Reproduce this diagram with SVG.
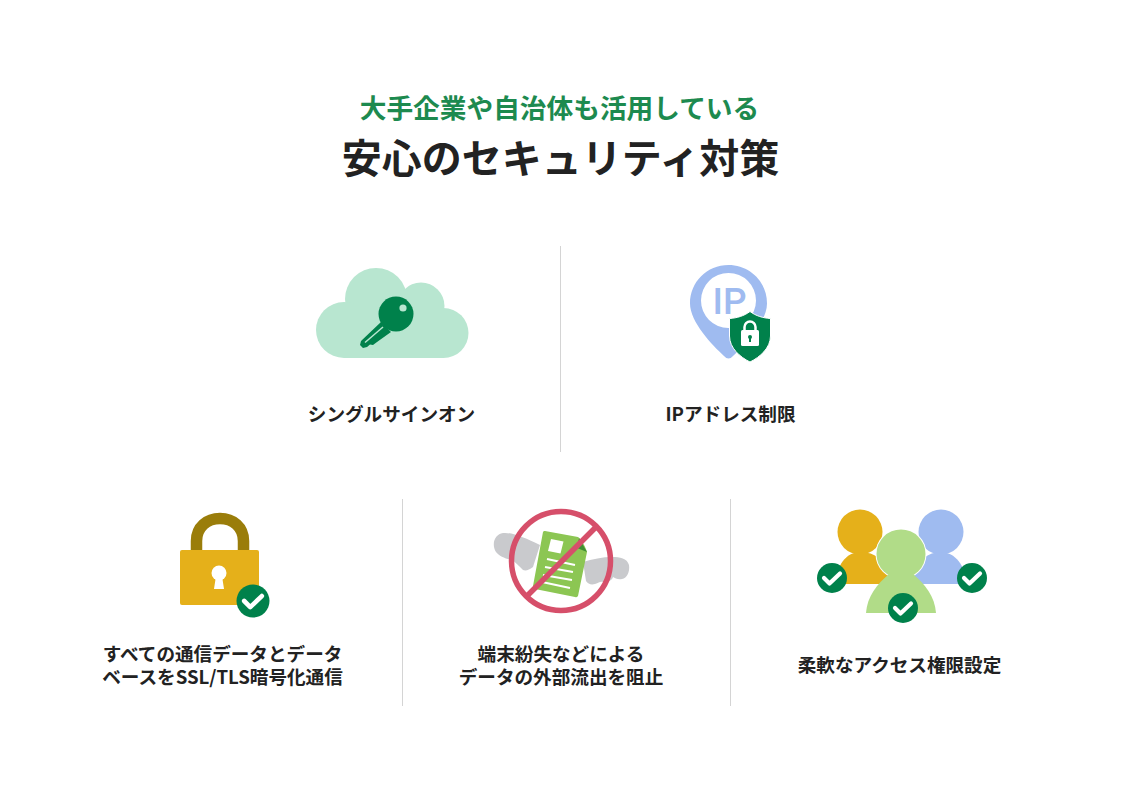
<svg xmlns="http://www.w3.org/2000/svg" xmlns:xlink="http://www.w3.org/1999/xlink" width="1121" height="793" viewBox="0 0 1121 793">
<style>
text{font-family:"Noto Sans CJK JP","Noto Sans",sans-serif;font-weight:700;text-anchor:middle}
.lab{font-size:18.6px;fill:#222}
.div{stroke:#d4d4d4;stroke-width:1}
</style>
<defs>
<g id="check"><circle r="15" fill="#00814b"/><path d="M-8,0L-2.500,5.500L8,-4.500" fill="none" stroke="#fff" stroke-width="4.200" stroke-linecap="round" stroke-linejoin="round"/></g>
</defs>
<rect width="1121" height="793" fill="#fff"/>
<g id="title">
<text x="559.500" y="118" font-size="26.700" fill="#1d8a4f">大手企業や自治体も活用している</text>
<text x="560.500" y="173" font-size="40" fill="#222">安心のセキュリティ対策</text>
</g>
<g id="dividers">
<line class="div" x1="560.500" y1="246" x2="560.500" y2="452"/>
<line class="div" x1="402.500" y1="499" x2="402.500" y2="706"/>
<line class="div" x1="730.500" y1="499" x2="730.500" y2="706"/>
</g>
<g id="sso">
<g fill="#b8e6d0">
<circle cx="376" cy="299" r="31"/>
<circle cx="421" cy="306" r="23.500"/>
<circle cx="344" cy="330" r="28"/>
<circle cx="443.500" cy="333" r="25"/>
<rect x="344" y="305" width="100" height="53"/>
</g>
<circle cx="396" cy="314" r="17.500" fill="#00814b"/>
<path fill="#00814b" d="M381,322L391,332L377,342L373,345L370,344.500L367,347L363,348L360,345L361,341Z"/>
<path d="M365,342.500L383,327" stroke="#b8e6d0" stroke-width="1.500" fill="none"/>
<circle cx="403" cy="308" r="3.600" fill="#b8e6d0"/>
<text class="lab" x="391.500" y="420.500">シングルサインオン</text>
</g>
<g id="ip">
<path fill="#9fbbf0" d="M690,303.500C690,282 707,265 728.500,265C750,265 767,282 767,303.500C767,322 745,345 733,356Q728.500,361 724,356C712,345 690,322 690,303.500Z"/>
<circle cx="728.500" cy="300.500" r="27.500" fill="#fff"/>
<text x="729.500" y="314" font-size="37" fill="#9fbbf0" style="font-weight:500;font-family:Roboto,sans-serif">IP</text>
<path fill="#00814b" stroke="#fff" stroke-width="1" d="M750,311.500C756,316 763,318 770.500,318.500V336C770.500,348 760,357 750,362C740,357 729.500,348 729.500,336V318.500C737,318 744,316 750,311.500Z"/>
<rect x="741" y="330" width="18" height="16" rx="1.500" fill="#fff"/>
<path d="M744.500,331V327a5.500,5.500 0 0 1 11,0V331" fill="none" stroke="#fff" stroke-width="2.500"/>
<circle cx="750" cy="337" r="2" fill="#00814b"/><rect x="749" y="337" width="2" height="5" fill="#00814b"/>
<text class="lab" x="730.500" y="420.500">IPアドレス制限</text>
</g>
<g id="ssl">
<path d="M196.500,552V541C196.500,527 207,518.500 220,518.500C233,518.500 243.500,527 243.500,541V552" fill="none" stroke="#9a7d0a" stroke-width="11.500"/>
<rect x="180" y="550" width="79" height="55" rx="2" fill="#e5b01a"/>
<circle cx="219" cy="573" r="7.500" fill="#fff"/>
<path d="M216,576L214,589H224L222,576Z" fill="#fff"/>
<use xlink:href="#check" href="#check" transform="translate(253,601) scale(1.100)"/>
<text class="lab" y="661"><tspan x="222.500">すべての通信データとデータ</tspan><tspan x="222.500" dy="23">ベースをSSL/TLS暗号化通信</tspan></text>
</g>
<g id="leak">
<path fill="#c9cacd" d="M503,533C512,532 525,538 540,545L533,567C529,570 526,571 523,570C519,566 515,562 512,560C506,559 499,556 496,552C491,544 495,534 503,533Z"/>
<path fill="#c9cacd" d="M583,562C592,559 603,557 612,557C620,557 627,558 629,565C630,572 627,578 622,579C618,580 615,578 613,577C612,581 606,583 603,582C600,581 599,583 595,584C591,585 588,584 586,581Z"/>
<path fill="#8cc653" d="M545,531L578,537C582,540 586,548 587,552L578,596C577,597 577,597.500 575,597L535,589C533,588 533,587 533,586L543,532C543.500,531 544,531 545,531Z"/>
<path fill="#3f8f35" d="M579,538L587,552L577,548Z"/>
<path fill="#fff" d="M551,539L563.500,541.500L560.500,553.500L548,551Z"/>
<path d="M547,559L575,565M545,567L573,572M543,575L572,580M542,582L570,588" stroke="#fff" stroke-width="2.200" fill="none"/>
<circle cx="561" cy="561" r="49.500" fill="none" stroke="#d64f6a" stroke-width="5.500"/>
<line x1="527.500" y1="595.500" x2="597" y2="526" stroke="#d64f6a" stroke-width="5.500"/>
<text class="lab" y="661"><tspan x="561">端末紛失などによる</tspan><tspan x="561" dy="23">データの外部流出を阻止</tspan></text>
</g>
<g id="access">
<circle cx="860" cy="532" r="22.500" fill="#e5b01a"/>
<path fill="#e5b01a" d="M836,584C836,566 846,552 860,552C876,552 884,560 890,576L885,584Z"/>
<circle cx="941" cy="532" r="22.500" fill="#9fbbf0"/>
<path fill="#9fbbf0" d="M915,584L910,576C918,560 928,552 941,552C955,552 966,566 966,584Z"/>
<circle cx="901" cy="554" r="25.500" fill="#fff"/>
<circle cx="901" cy="554" r="24.500" fill="#b1dc88"/>
<path fill="#b1dc88" d="M866,613C867,597 877,584 889,574L913,574C925,584 935,597 936,613Z"/>
<use xlink:href="#check" href="#check" x="832" y="578"/>
<use xlink:href="#check" href="#check" x="972" y="578"/>
<use xlink:href="#check" href="#check" x="903" y="608"/>
<text class="lab" x="899.500" y="672">柔軟なアクセス権限設定</text>
</g>
</svg>
